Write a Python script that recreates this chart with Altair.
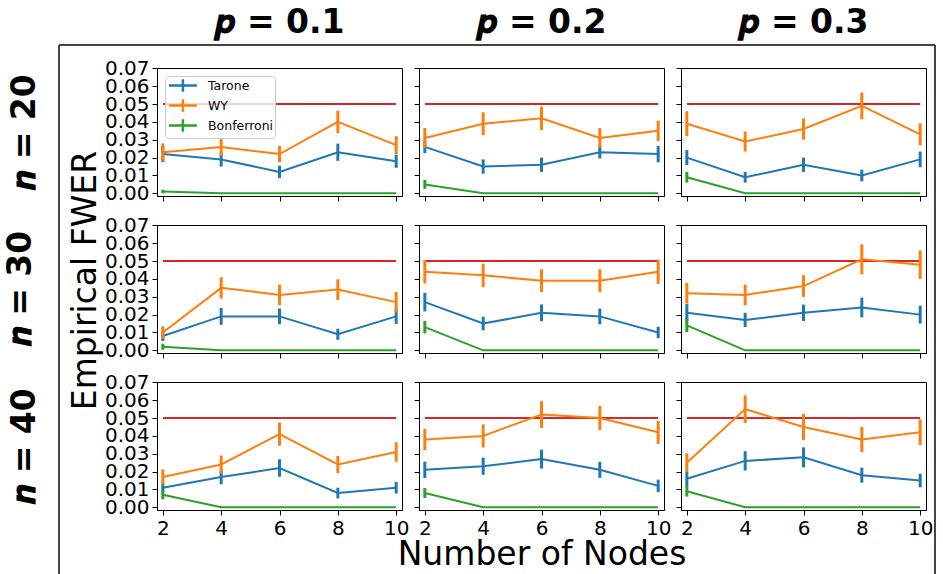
import altair as alt
import pandas as pd

NODES = [2, 4, 6, 8, 10]
N_VALUES = [20, 30, 40]
P_VALUES = [0.1, 0.2, 0.3]
METHODS = ["Tarone", "WY", "Bonferroni"]
COLORS = ["#1f77b4", "#ff7f0e", "#2ca02c"]
ALPHA = 0.05
Y_TICKS = [0.0, 0.01, 0.02, 0.03, 0.04, 0.05, 0.06, 0.07]

# [row n][col p][nodes]
TARONE = [
    [[0.022, 0.019, 0.012, 0.023, 0.018], [0.026, 0.015, 0.016, 0.023, 0.022], [0.020, 0.009, 0.016, 0.010, 0.019]],
    [[0.008, 0.019, 0.019, 0.009, 0.019], [0.027, 0.015, 0.021, 0.019, 0.010], [0.021, 0.017, 0.021, 0.024, 0.020]],
    [[0.011, 0.017, 0.022, 0.008, 0.011], [0.021, 0.023, 0.027, 0.021, 0.012], [0.016, 0.026, 0.028, 0.018, 0.015]],
]
TARONE_ERR = [
    [[0.0045, 0.0040, 0.0035, 0.0048, 0.0037], [0.0035, 0.0040, 0.0040, 0.0035, 0.0046], [0.0042, 0.0030, 0.0040, 0.0033, 0.0044]],
    [[0.0028, 0.0047, 0.0044, 0.0031, 0.0042], [0.0052, 0.0038, 0.0047, 0.0044, 0.0032], [0.0049, 0.0040, 0.0046, 0.0055, 0.0050]],
    [[0.0026, 0.0041, 0.0049, 0.0030, 0.0032], [0.0046, 0.0048, 0.0053, 0.0045, 0.0035], [0.0041, 0.0054, 0.0056, 0.0042, 0.0038]],
]
WY = [
    [[0.023, 0.026, 0.022, 0.040, 0.027], [0.031, 0.039, 0.042, 0.031, 0.035], [0.039, 0.029, 0.036, 0.049, 0.033]],
    [[0.010, 0.035, 0.031, 0.034, 0.027], [0.044, 0.042, 0.039, 0.039, 0.044], [0.032, 0.031, 0.036, 0.051, 0.048]],
    [[0.017, 0.024, 0.041, 0.024, 0.031], [0.038, 0.040, 0.052, 0.050, 0.042], [0.025, 0.055, 0.045, 0.038, 0.042]],
]
WY_ERR = [
    [[0.0050, 0.0050, 0.0046, 0.0063, 0.0050], [0.0056, 0.0064, 0.0065, 0.0056, 0.0057], [0.0070, 0.0056, 0.0060, 0.0075, 0.0062]],
    [[0.0035, 0.0060, 0.0058, 0.0058, 0.0057], [0.0066, 0.0065, 0.0064, 0.0064, 0.0068], [0.0058, 0.0058, 0.0061, 0.0084, 0.0080]],
    [[0.0042, 0.0050, 0.0065, 0.0048, 0.0055], [0.0060, 0.0065, 0.0075, 0.0068, 0.0065], [0.0053, 0.0077, 0.0074, 0.0071, 0.0072]],
]
BONF = [
    [[0.001, 0.0, 0.0, 0.0, 0.0], [0.005, 0.0, 0.0, 0.0, 0.0], [0.009, 0.0, 0.0, 0.0, 0.0]],
    [[0.002, 0.0, 0.0, 0.0, 0.0], [0.013, 0.0, 0.0, 0.0, 0.0], [0.014, 0.0, 0.0, 0.0, 0.0]],
    [[0.007, 0.0, 0.0, 0.0, 0.0], [0.008, 0.0, 0.0, 0.0, 0.0], [0.009, 0.0, 0.0, 0.0, 0.0]],
]
BONF_ERR = [
    [[0.0010, 0.0, 0.0, 0.0, 0.0], [0.0025, 0.0, 0.0, 0.0, 0.0], [0.0030, 0.0, 0.0, 0.0, 0.0]],
    [[0.0017, 0.0, 0.0, 0.0, 0.0], [0.0035, 0.0, 0.0, 0.0, 0.0], [0.0038, 0.0, 0.0, 0.0, 0.0]],
    [[0.0025, 0.0, 0.0, 0.0, 0.0], [0.0028, 0.0, 0.0, 0.0, 0.0], [0.0030, 0.0, 0.0, 0.0, 0.0]],
]

SERIES = [("Tarone", TARONE, TARONE_ERR), ("WY", WY, WY_ERR), ("Bonferroni", BONF, BONF_ERR)]

records = []
for i in range(len(N_VALUES)):
    for j in range(len(P_VALUES)):
        for name, means, errs in SERIES:
            for k, x in enumerate(NODES):
                m = means[i][j][k]
                e = errs[i][j][k]
                records.append({"row": i, "col": j, "method": name, "nodes": x,
                                "fwer": m, "lo": m - e, "hi": m + e})
df = pd.DataFrame(records)
ref_df = pd.DataFrame({"nodes": [NODES[0], NODES[-1]], "fwer": [ALPHA, ALPHA]})
one_df = pd.DataFrame({"a": [0]})

FONT = "DejaVu Sans"
W, H = 245, 128
BIG = 33


def panel(i, j):
    d = df[(df["row"] == i) & (df["col"] == j)]
    xaxis = alt.Axis(values=NODES, labels=(i == 2), tickSize=5, labelPadding=3,
                     title=("Number of Nodes" if (i == 2 and j == 1) else None), titlePadding=0)
    if j == 0 and i != 1:
        yaxis = alt.Axis(values=Y_TICKS, format=".2f", labels=True, tickSize=5, labelPadding=3,
                         title=f"\U0001D48F = {N_VALUES[i]}", titleFontSize=BIG, titleFontWeight="bold",
                         titlePadding=63)
    elif j == 0:
        yaxis = alt.Axis(values=Y_TICKS, format=".2f", labels=True, tickSize=5, labelPadding=3,
                         title="Empirical FWER", titlePadding=2, titleY=55)
    else:
        yaxis = alt.Axis(values=Y_TICKS, labels=False, tickSize=5, title=None)
    xenc = alt.X("nodes:Q", scale=alt.Scale(domain=[1.8, 10.2], nice=False, zero=False), axis=xaxis)
    yscale = alt.Scale(domain=[-0.0015, 0.0702], nice=False, zero=False)
    if i == 0 and j == 0:
        leg = alt.Legend(title=None, orient="top-left", offset=8, padding=1,
                         strokeColor="#cccccc", fillColor="rgba(255,255,255,0.8)", cornerRadius=3,
                         labelFontSize=12.5, labelFont=FONT, labelColor="black",
                         symbolType="M-0.8,0H3.2M1.2,-0.9V0.9", symbolSize=196, symbolStrokeWidth=2.5,
                         labelOffset=25, rowPadding=-3.6)
    else:
        leg = None
    color = alt.Color("method:N", scale=alt.Scale(domain=METHODS, range=COLORS), legend=leg,
                      sort=METHODS)
    ref = alt.Chart(ref_df).mark_line(color="#d62728", strokeWidth=2).encode(
        x=xenc, y=alt.Y("fwer:Q", scale=yscale, axis=yaxis))
    lines = alt.Chart(d).mark_line(strokeWidth=2).encode(
        x=xenc, y=alt.Y("fwer:Q", scale=yscale, axis=yaxis), color=color, detail="method:N")
    bars = alt.Chart(d).mark_rule(strokeWidth=3).encode(
        x=xenc, y=alt.Y("lo:Q", scale=yscale, axis=yaxis), y2="hi:Q", color=color)
    layers = [ref, lines, bars]
    if i == 1 and j == 2:
        # figure frame (top, left and right edges), relative to this panel's origin
        fx0, fx1, fy0, fy1 = -622, 254, -180, 349
        for enc in [dict(x=alt.value(fx0), x2=alt.value(fx1), y=alt.value(fy0)),
                    dict(x=alt.value(fx0), y=alt.value(fy0), y2=alt.value(fy1)),
                    dict(x=alt.value(fx1), y=alt.value(fy0), y2=alt.value(fy1))]:
            layers.append(alt.Chart(one_df).mark_rule(color="#444444", strokeWidth=2).encode(**enc))
    ch = alt.layer(*layers).properties(width=W, height=H)
    if i == 0:
        ch = ch.properties(title=alt.TitleParams(
            text=f"\U0001D491 = {P_VALUES[j]}", fontSize=BIG, font=FONT, fontWeight="bold",
            anchor="middle", frame="group", offset=(18 if j == 0 else 28), color="black"))
    elif i == 1 and j == 0:
        ch = ch.properties(title=alt.TitleParams(
            text=f"\U0001D48F = {N_VALUES[i]}", orient="left", anchor="middle", frame="group",
            fontSize=BIG, font=FONT, fontWeight="bold", offset=31, color="black"))
    return ch


panels = [panel(i, j) for i in range(3) for j in range(3)]
chart = alt.concat(*panels, columns=3, spacing={"row": 29, "column": 17}, bounds="flush").resolve_legend(
    color="independent").properties(
    padding={"left": 4, "top": 6, "right": 0, "bottom": 0}
).configure_view(stroke="black", strokeWidth=1).configure_axis(
    labelFont=FONT, titleFont=FONT, labelColor="black", titleColor="black", tickColor="black",
    domainColor="black", grid=False, labelFontSize=20, titleFontSize=33, titleFontWeight="normal",
    labelOverlap=False, labelFlush=False
)

chart.save("out.html", embed_options={"renderer": "svg", "actions": False})
